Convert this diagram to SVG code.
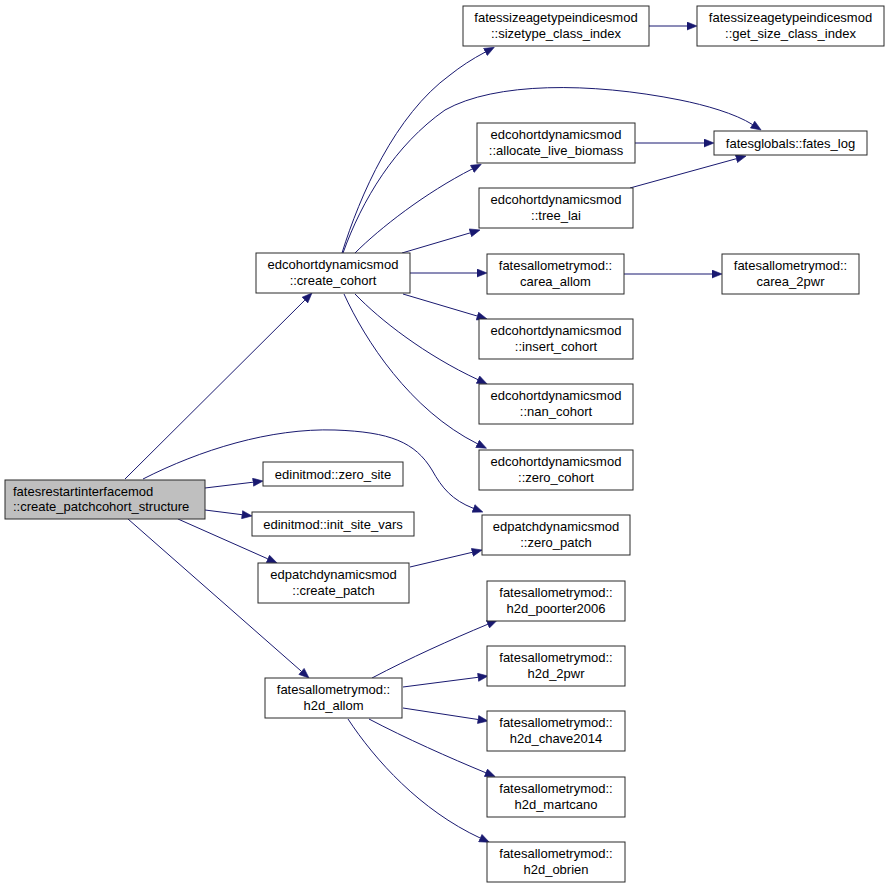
<svg xmlns="http://www.w3.org/2000/svg" width="889" height="888" viewBox="0 0 889 888">
<style>
.n rect{fill:#ffffff;stroke:#2a2a2a;stroke-width:1}
.n.root rect{fill:#bfbfbf}
.n text{font-family:"Liberation Sans",Arial,Helvetica,sans-serif;font-size:13px;fill:#000000;text-anchor:middle}
.n.root text{text-anchor:start}
.e path{fill:none;stroke:#191970;stroke-width:1;marker-end:url(#arr)}
</style>
<defs>
<marker id="arr" markerUnits="userSpaceOnUse" markerWidth="11" markerHeight="9" viewBox="0 0 11 9" refX="0.5" refY="4.5" orient="auto">
<path d="M0.5,0.5 L10.5,4.5 L0.5,8.5 Z" fill="#191970" stroke="#191970" stroke-width="0.6"/>
</marker>
</defs>
<rect width="889" height="888" fill="#ffffff"/>
<g id="connectors" class="e">
<path d="M125,479 L304.9,300.1"/>
<path d="M143,479 C200,450 270,428 335,430 C390,432 415,442 432,470 C442,488 452,500 473.5,508.4"/>
<path d="M205,488 L253.1,482.2"/>
<path d="M205,510 L242.1,514.7"/>
<path d="M178,519 L267.9,558.9"/>
<path d="M128,519 L301.5,671.4"/>
<path d="M342,253 C360,195 395,115 450,75 C460,67 472,59 485.4,52"/>
<path d="M343,253 C362,200 395,145 445,110 C495,82 590,82 680,100 C705,105 735,113.5 752.6,124.6"/>
<path d="M355,253 C380,228 425,193 472.3,168.9"/>
<path d="M402,253 L470.4,232.8"/>
<path d="M410,273 L477,273"/>
<path d="M403,294 L477.4,316.1"/>
<path d="M355,294 C380,320 425,355 478,379.7"/>
<path d="M344,294 C365,340 410,410 477.5,443.8"/>
<path d="M649,26 L687,26"/>
<path d="M635,143 L704,143"/>
<path d="M630,188 L736.4,158.7"/>
<path d="M624,274 L712,274"/>
<path d="M410,567 L472.3,552.3"/>
<path d="M372,678 C410,658 450,640 487.9,624.2"/>
<path d="M403,687 L478.1,677.3"/>
<path d="M403,708 L478.1,719.5"/>
<path d="M369,719 C405,738 450,758 485.9,772.8"/>
<path d="M348,719 C375,760 420,810 480.3,838.1"/>
</g>
<g id="root" class="n root"><rect x="5" y="480" width="200" height="39"/><text x="13" y="496">fatesrestartinterfacemod</text><text x="13" y="511">::create_patchcohort_structure</text></g>
<g id="create_cohort" class="n"><rect x="256" y="253" width="154" height="40"/><text x="333" y="269">edcohortdynamicsmod</text><text x="333" y="284.5">::create_cohort</text></g>
<g id="sizetype_class_index" class="n"><rect x="463" y="6" width="186" height="40"/><text x="556" y="22">fatessizeagetypeindicesmod</text><text x="556" y="37.5">::sizetype_class_index</text></g>
<g id="get_size_class_index" class="n"><rect x="697" y="6" width="187" height="40"/><text x="790.5" y="22">fatessizeagetypeindicesmod</text><text x="790.5" y="37.5">::get_size_class_index</text></g>
<g id="allocate_live_biomass" class="n"><rect x="477" y="123" width="158" height="40"/><text x="556" y="139">edcohortdynamicsmod</text><text x="556" y="154.5">::allocate_live_biomass</text></g>
<g id="fates_log" class="n"><rect x="714" y="131" width="153" height="24"/><text x="790.5" y="147.5">fatesglobals::fates_log</text></g>
<g id="tree_lai" class="n"><rect x="479" y="188" width="154" height="40"/><text x="556" y="204">edcohortdynamicsmod</text><text x="556" y="219.5">::tree_lai</text></g>
<g id="carea_allom" class="n"><rect x="487" y="254" width="137" height="40"/><text x="555.5" y="270">fatesallometrymod::</text><text x="555.5" y="285.5">carea_allom</text></g>
<g id="carea_2pwr" class="n"><rect x="722" y="254" width="137" height="40"/><text x="790.5" y="270">fatesallometrymod::</text><text x="790.5" y="285.5">carea_2pwr</text></g>
<g id="insert_cohort" class="n"><rect x="479" y="319" width="154" height="40"/><text x="556" y="335">edcohortdynamicsmod</text><text x="556" y="350.5">::insert_cohort</text></g>
<g id="nan_cohort" class="n"><rect x="479" y="384" width="154" height="40"/><text x="556" y="400">edcohortdynamicsmod</text><text x="556" y="415.5">::nan_cohort</text></g>
<g id="zero_cohort" class="n"><rect x="479" y="450" width="154" height="40"/><text x="556" y="466">edcohortdynamicsmod</text><text x="556" y="481.5">::zero_cohort</text></g>
<g id="zero_patch" class="n"><rect x="482" y="515" width="148" height="40"/><text x="556" y="531">edpatchdynamicsmod</text><text x="556" y="546.5">::zero_patch</text></g>
<g id="zero_site" class="n"><rect x="263" y="462" width="140" height="24"/><text x="333" y="478.5">edinitmod::zero_site</text></g>
<g id="init_site_vars" class="n"><rect x="252" y="512" width="162" height="24"/><text x="333" y="528.5">edinitmod::init_site_vars</text></g>
<g id="create_patch" class="n"><rect x="258" y="563" width="151" height="40"/><text x="333.5" y="579">edpatchdynamicsmod</text><text x="333.5" y="594.5">::create_patch</text></g>
<g id="h2d_allom" class="n"><rect x="265" y="678" width="137" height="40"/><text x="333.5" y="694">fatesallometrymod::</text><text x="333.5" y="709.5">h2d_allom</text></g>
<g id="h2d_poorter2006" class="n"><rect x="487" y="581" width="138" height="40"/><text x="556" y="597">fatesallometrymod::</text><text x="556" y="612.5">h2d_poorter2006</text></g>
<g id="h2d_2pwr" class="n"><rect x="487" y="646" width="138" height="40"/><text x="556" y="662">fatesallometrymod::</text><text x="556" y="677.5">h2d_2pwr</text></g>
<g id="h2d_chave2014" class="n"><rect x="487" y="711" width="138" height="40"/><text x="556" y="727">fatesallometrymod::</text><text x="556" y="742.5">h2d_chave2014</text></g>
<g id="h2d_martcano" class="n"><rect x="487" y="777" width="138" height="40"/><text x="556" y="793">fatesallometrymod::</text><text x="556" y="808.5">h2d_martcano</text></g>
<g id="h2d_obrien" class="n"><rect x="487" y="842" width="138" height="40"/><text x="556" y="858">fatesallometrymod::</text><text x="556" y="873.5">h2d_obrien</text></g>
</svg>
